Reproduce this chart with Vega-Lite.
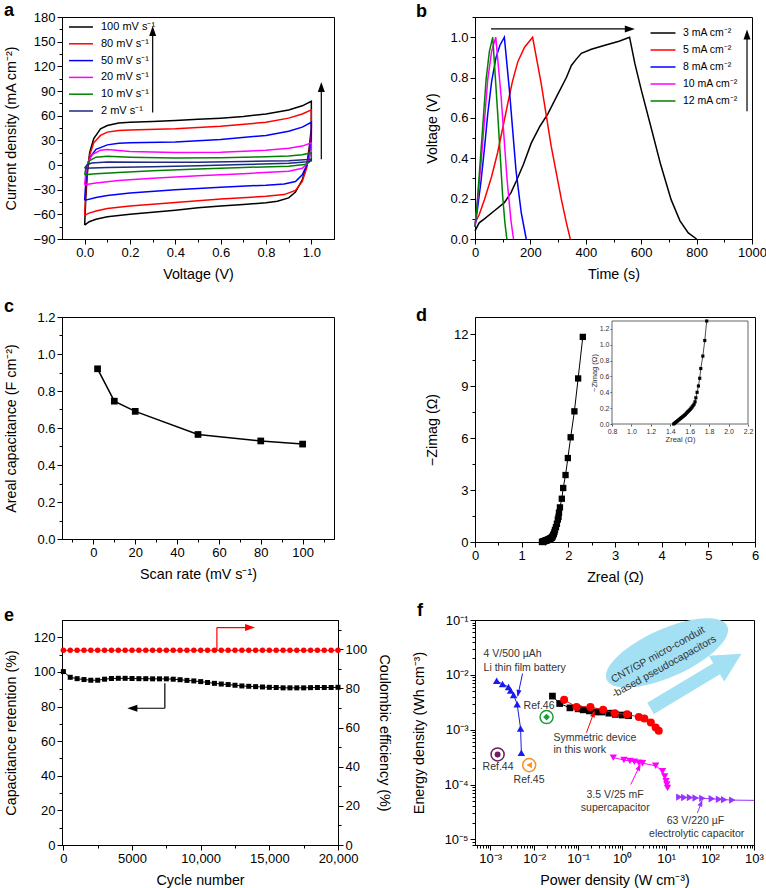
{
"$schema": "https://vega.github.io/schema/vega-lite/v6.json",
"padding": {"left": 3, "top": 1, "right": 0, "bottom": 0},
"background": "white",
"config": {
  "font": "Liberation Sans",
  "view": {"stroke": "black", "strokeWidth": 1},
  "axis": {"domainColor": "black", "tickColor": "black", "labelColor": "black", "titleColor": "black", "labelFontSize": 13, "titleFontSize": 14.3, "titleFontWeight": "normal", "grid": false, "tickSize": 5, "labelPadding": 2, "labelFlush": false, "labelOverlap": false, "labelFont": "Liberation Sans", "titleFont": "Liberation Sans"},
  "axisX": {"titlePadding": 8},
  "axisY": {"titlePadding": 6},
  "title": {"anchor": "start", "frame": "bounds", "fontSize": 18, "fontWeight": "bold", "offset": -5, "color": "black"},
  "legend": {"padding": 0, "labelFont": "Liberation Sans", "labelColor": "black"}
},
"resolve": {"scale": {"color": "independent"}, "legend": {"color": "independent"}},
"columns": 2,
"spacing": {"row": 78, "column": 137},
"bounds": "flush",
"align": "each",
"concat": [
{
 "width": 272, "height": 222,
 "title": {"text": "a", "dx": 0, "offset": -9},
 "layer": [
  {
   "data": {"values": [
{"s":"100 mV s⁻¹","o":0,"v":0,"j":-73},{"s":"100 mV s⁻¹","o":1,"v":0.005,"j":-40},{"s":"100 mV s⁻¹","o":2,"v":0.012,"j":-10},{"s":"100 mV s⁻¹","o":3,"v":0.022,"j":15},{"s":"100 mV s⁻¹","o":4,"v":0.04,"j":32},{"s":"100 mV s⁻¹","o":5,"v":0.07,"j":44},{"s":"100 mV s⁻¹","o":6,"v":0.1,"j":48},{"s":"100 mV s⁻¹","o":7,"v":0.15,"j":51},{"s":"100 mV s⁻¹","o":8,"v":0.2,"j":52},{"s":"100 mV s⁻¹","o":9,"v":0.3,"j":53},{"s":"100 mV s⁻¹","o":10,"v":0.4,"j":54},{"s":"100 mV s⁻¹","o":11,"v":0.5,"j":55.5},{"s":"100 mV s⁻¹","o":12,"v":0.6,"j":57},{"s":"100 mV s⁻¹","o":13,"v":0.7,"j":59},{"s":"100 mV s⁻¹","o":14,"v":0.8,"j":62},{"s":"100 mV s⁻¹","o":15,"v":0.9,"j":67},{"s":"100 mV s⁻¹","o":16,"v":0.96,"j":72},{"s":"100 mV s⁻¹","o":17,"v":1,"j":77.5},{"s":"100 mV s⁻¹","o":18,"v":1,"j":45},{"s":"100 mV s⁻¹","o":19,"v":0.99,"j":20},{"s":"100 mV s⁻¹","o":20,"v":0.98,"j":0},{"s":"100 mV s⁻¹","o":21,"v":0.96,"j":-18},{"s":"100 mV s⁻¹","o":22,"v":0.93,"j":-33},{"s":"100 mV s⁻¹","o":23,"v":0.9,"j":-40},{"s":"100 mV s⁻¹","o":24,"v":0.85,"j":-44},{"s":"100 mV s⁻¹","o":25,"v":0.8,"j":-46},{"s":"100 mV s⁻¹","o":26,"v":0.7,"j":-48},{"s":"100 mV s⁻¹","o":27,"v":0.6,"j":-50},{"s":"100 mV s⁻¹","o":28,"v":0.5,"j":-52},{"s":"100 mV s⁻¹","o":29,"v":0.4,"j":-55},{"s":"100 mV s⁻¹","o":30,"v":0.3,"j":-57.5},{"s":"100 mV s⁻¹","o":31,"v":0.2,"j":-60},{"s":"100 mV s⁻¹","o":32,"v":0.1,"j":-63},{"s":"100 mV s⁻¹","o":33,"v":0.05,"j":-66},{"s":"100 mV s⁻¹","o":34,"v":0.02,"j":-69},{"s":"100 mV s⁻¹","o":35,"v":0,"j":-73},
{"s":"80 mV s⁻¹","o":0,"v":0,"j":-61},{"s":"80 mV s⁻¹","o":1,"v":0.005,"j":-30},{"s":"80 mV s⁻¹","o":2,"v":0.012,"j":-5},{"s":"80 mV s⁻¹","o":3,"v":0.022,"j":12},{"s":"80 mV s⁻¹","o":4,"v":0.04,"j":27},{"s":"80 mV s⁻¹","o":5,"v":0.07,"j":36},{"s":"80 mV s⁻¹","o":6,"v":0.1,"j":40},{"s":"80 mV s⁻¹","o":7,"v":0.15,"j":42},{"s":"80 mV s⁻¹","o":8,"v":0.2,"j":42.5},{"s":"80 mV s⁻¹","o":9,"v":0.4,"j":44},{"s":"80 mV s⁻¹","o":10,"v":0.6,"j":47},{"s":"80 mV s⁻¹","o":11,"v":0.8,"j":52},{"s":"80 mV s⁻¹","o":12,"v":0.9,"j":57},{"s":"80 mV s⁻¹","o":13,"v":0.96,"j":62},{"s":"80 mV s⁻¹","o":14,"v":1,"j":67},{"s":"80 mV s⁻¹","o":15,"v":1,"j":38},{"s":"80 mV s⁻¹","o":16,"v":0.99,"j":15},{"s":"80 mV s⁻¹","o":17,"v":0.98,"j":-3},{"s":"80 mV s⁻¹","o":18,"v":0.96,"j":-20},{"s":"80 mV s⁻¹","o":19,"v":0.93,"j":-31},{"s":"80 mV s⁻¹","o":20,"v":0.88,"j":-36},{"s":"80 mV s⁻¹","o":21,"v":0.8,"j":-38},{"s":"80 mV s⁻¹","o":22,"v":0.6,"j":-41.5},{"s":"80 mV s⁻¹","o":23,"v":0.4,"j":-45.5},{"s":"80 mV s⁻¹","o":24,"v":0.2,"j":-50},{"s":"80 mV s⁻¹","o":25,"v":0.1,"j":-53},{"s":"80 mV s⁻¹","o":26,"v":0.05,"j":-56},{"s":"80 mV s⁻¹","o":27,"v":0.02,"j":-58.5},{"s":"80 mV s⁻¹","o":28,"v":0,"j":-61},
{"s":"50 mV s⁻¹","o":0,"v":0,"j":-43},{"s":"50 mV s⁻¹","o":1,"v":0.005,"j":-20},{"s":"50 mV s⁻¹","o":2,"v":0.012,"j":-2},{"s":"50 mV s⁻¹","o":3,"v":0.025,"j":10},{"s":"50 mV s⁻¹","o":4,"v":0.05,"j":19},{"s":"50 mV s⁻¹","o":5,"v":0.1,"j":24.5},{"s":"50 mV s⁻¹","o":6,"v":0.15,"j":26.5},{"s":"50 mV s⁻¹","o":7,"v":0.2,"j":27},{"s":"50 mV s⁻¹","o":8,"v":0.4,"j":28},{"s":"50 mV s⁻¹","o":9,"v":0.6,"j":31},{"s":"50 mV s⁻¹","o":10,"v":0.8,"j":36},{"s":"50 mV s⁻¹","o":11,"v":0.9,"j":41},{"s":"50 mV s⁻¹","o":12,"v":0.96,"j":46},{"s":"50 mV s⁻¹","o":13,"v":1,"j":52},{"s":"50 mV s⁻¹","o":14,"v":1,"j":30},{"s":"50 mV s⁻¹","o":15,"v":0.99,"j":12},{"s":"50 mV s⁻¹","o":16,"v":0.98,"j":0},{"s":"50 mV s⁻¹","o":17,"v":0.96,"j":-12},{"s":"50 mV s⁻¹","o":18,"v":0.93,"j":-20},{"s":"50 mV s⁻¹","o":19,"v":0.88,"j":-23},{"s":"50 mV s⁻¹","o":20,"v":0.8,"j":-24.5},{"s":"50 mV s⁻¹","o":21,"v":0.6,"j":-27},{"s":"50 mV s⁻¹","o":22,"v":0.4,"j":-30},{"s":"50 mV s⁻¹","o":23,"v":0.2,"j":-34},{"s":"50 mV s⁻¹","o":24,"v":0.1,"j":-37},{"s":"50 mV s⁻¹","o":25,"v":0.05,"j":-39.5},{"s":"50 mV s⁻¹","o":26,"v":0,"j":-43},
{"s":"20 mV s⁻¹","o":0,"v":0,"j":-24},{"s":"20 mV s⁻¹","o":1,"v":0.005,"j":-10},{"s":"20 mV s⁻¹","o":2,"v":0.015,"j":4},{"s":"20 mV s⁻¹","o":3,"v":0.035,"j":13},{"s":"20 mV s⁻¹","o":4,"v":0.07,"j":18},{"s":"20 mV s⁻¹","o":5,"v":0.1,"j":18.7},{"s":"20 mV s⁻¹","o":6,"v":0.15,"j":17.5},{"s":"20 mV s⁻¹","o":7,"v":0.2,"j":16.5},{"s":"20 mV s⁻¹","o":8,"v":0.4,"j":15.2},{"s":"20 mV s⁻¹","o":9,"v":0.6,"j":15.5},{"s":"20 mV s⁻¹","o":10,"v":0.8,"j":18},{"s":"20 mV s⁻¹","o":11,"v":0.9,"j":20.5},{"s":"20 mV s⁻¹","o":12,"v":0.96,"j":23},{"s":"20 mV s⁻¹","o":13,"v":1,"j":27},{"s":"20 mV s⁻¹","o":14,"v":1,"j":18},{"s":"20 mV s⁻¹","o":15,"v":0.99,"j":8},{"s":"20 mV s⁻¹","o":16,"v":0.98,"j":1},{"s":"20 mV s⁻¹","o":17,"v":0.96,"j":-4},{"s":"20 mV s⁻¹","o":18,"v":0.9,"j":-7.5},{"s":"20 mV s⁻¹","o":19,"v":0.7,"j":-10.5},{"s":"20 mV s⁻¹","o":20,"v":0.5,"j":-13},{"s":"20 mV s⁻¹","o":21,"v":0.3,"j":-16},{"s":"20 mV s⁻¹","o":22,"v":0.15,"j":-19},{"s":"20 mV s⁻¹","o":23,"v":0.05,"j":-22},{"s":"20 mV s⁻¹","o":24,"v":0,"j":-24},
{"s":"10 mV s⁻¹","o":0,"v":0,"j":-12},{"s":"10 mV s⁻¹","o":1,"v":0.005,"j":-4},{"s":"10 mV s⁻¹","o":2,"v":0.02,"j":5},{"s":"10 mV s⁻¹","o":3,"v":0.05,"j":9.5},{"s":"10 mV s⁻¹","o":4,"v":0.1,"j":10.5},{"s":"10 mV s⁻¹","o":5,"v":0.2,"j":9.5},{"s":"10 mV s⁻¹","o":6,"v":0.4,"j":8.5},{"s":"10 mV s⁻¹","o":7,"v":0.6,"j":8.8},{"s":"10 mV s⁻¹","o":8,"v":0.8,"j":10},{"s":"10 mV s⁻¹","o":9,"v":0.9,"j":11},{"s":"10 mV s⁻¹","o":10,"v":0.96,"j":12.5},{"s":"10 mV s⁻¹","o":11,"v":1,"j":15},{"s":"10 mV s⁻¹","o":12,"v":1,"j":8},{"s":"10 mV s⁻¹","o":13,"v":0.99,"j":3},{"s":"10 mV s⁻¹","o":14,"v":0.97,"j":0.5},{"s":"10 mV s⁻¹","o":15,"v":0.9,"j":-1.5},{"s":"10 mV s⁻¹","o":16,"v":0.7,"j":-3},{"s":"10 mV s⁻¹","o":17,"v":0.5,"j":-5},{"s":"10 mV s⁻¹","o":18,"v":0.3,"j":-7},{"s":"10 mV s⁻¹","o":19,"v":0.15,"j":-9},{"s":"10 mV s⁻¹","o":20,"v":0.05,"j":-10.5},{"s":"10 mV s⁻¹","o":21,"v":0,"j":-12},
{"s":"2 mV s⁻¹","o":0,"v":0,"j":-4},{"s":"2 mV s⁻¹","o":1,"v":0.01,"j":0},{"s":"2 mV s⁻¹","o":2,"v":0.03,"j":2.5},{"s":"2 mV s⁻¹","o":3,"v":0.1,"j":3.5},{"s":"2 mV s⁻¹","o":4,"v":0.3,"j":3.2},{"s":"2 mV s⁻¹","o":5,"v":0.5,"j":3.3},{"s":"2 mV s⁻¹","o":6,"v":0.7,"j":4.2},{"s":"2 mV s⁻¹","o":7,"v":0.9,"j":5.3},{"s":"2 mV s⁻¹","o":8,"v":1,"j":7},{"s":"2 mV s⁻¹","o":9,"v":1,"j":5},{"s":"2 mV s⁻¹","o":10,"v":0.97,"j":3.5},{"s":"2 mV s⁻¹","o":11,"v":0.9,"j":2},{"s":"2 mV s⁻¹","o":12,"v":0.7,"j":0.5},{"s":"2 mV s⁻¹","o":13,"v":0.5,"j":-0.8},{"s":"2 mV s⁻¹","o":14,"v":0.3,"j":-2},{"s":"2 mV s⁻¹","o":15,"v":0.1,"j":-3},{"s":"2 mV s⁻¹","o":16,"v":0,"j":-4}
   ]},
   "mark": {"type": "line", "strokeWidth": 1.5},
   "encoding": {
    "x": {"field": "v", "type": "quantitative", "scale": {"domain": [-0.1, 1.1], "nice": false, "zero": false},
      "axis": {"title": "Voltage (V)", "tickCount": 200, "labelOverlap": false, "values": [0,0.1,0.2,0.3,0.4,0.5,0.6,0.7,0.8,0.9,1], "labelExpr": "abs(datum.value*5-round(datum.value*5))<0.01 ? format(datum.value,'.1f') : ''", "tickSize": {"condition": {"test": "abs(datum.value*5-round(datum.value*5))<0.01", "value": 5}, "value": 3}}},
    "y": {"field": "j", "type": "quantitative", "scale": {"domain": [-90, 180], "nice": false, "zero": false},
      "axis": {"title": "Current density (mA cm⁻²)", "tickCount": 200, "labelOverlap": false, "values": [-90,-75,-60,-45,-30,-15,0,15,30,45,60,75,90,105,120,135,150,165,180], "labelExpr": "abs(datum.value%30)<0.01 ? format(datum.value,'d') : ''", "tickSize": {"condition": {"test": "abs(datum.value%30)<0.01", "value": 5}, "value": 3}, "minExtent": 38, "maxExtent": 38}},
    "color": {"field": "s", "type": "nominal", "scale": {"domain": ["100 mV s⁻¹","80 mV s⁻¹","50 mV s⁻¹","20 mV s⁻¹","10 mV s⁻¹","2 mV s⁻¹"], "range": ["#000000","#ff0000","#0000ff","#ff00ff","#008000","#1c2a80"]},
      "legend": {"title": null, "orient": "none", "legendX": 11, "legendY": 2, "symbolType": "M -1.76 0 L 1.76 0", "symbolSize": 185, "symbolStrokeWidth": 1.5, "labelFontSize": 11, "labelOffset": 12, "rowPadding": 3.8}},
    "order": {"field": "o", "type": "quantitative"}
   }
  },
  {
   "data": {"values": [{"v":0.3,"j":64,"v2":0.3,"j2":166},{"v":1.044,"j":7,"v2":1.044,"j2":97}]},
   "mark": {"type": "rule", "color": "black", "strokeWidth": 1.2},
   "encoding": {"x": {"field": "v", "type": "quantitative"}, "y": {"field": "j", "type": "quantitative"}, "x2": {"field": "v2"}, "y2": {"field": "j2"}}
  },
  {
   "data": {"values": [{"v":0.3,"j":169},{"v":1.044,"j":101}]},
   "mark": {"type": "point", "shape": "M 0 0 L -3.5 10 L 3.5 10 Z", "size": 4, "filled": true, "color": "black", "opacity": 1, "angle": 0},
   "encoding": {"x": {"field": "v", "type": "quantitative"}, "y": {"field": "j", "type": "quantitative"}}
  }
 ]
},
{
 "width": 277, "height": 222,
 "title": {"text": "b", "dx": -9, "offset": -10},
 "layer": [
  {
   "data": {"values": [
{"c":"3 mA cm⁻²","t":0,"u":0.04},{"c":"3 mA cm⁻²","t":15,"u":0.08},{"c":"3 mA cm⁻²","t":34,"u":0.1},{"c":"3 mA cm⁻²","t":70,"u":0.14},{"c":"3 mA cm⁻²","t":106,"u":0.18},{"c":"3 mA cm⁻²","t":130,"u":0.23},{"c":"3 mA cm⁻²","t":150,"u":0.29},{"c":"3 mA cm⁻²","t":175,"u":0.37},{"c":"3 mA cm⁻²","t":203,"u":0.475},{"c":"3 mA cm⁻²","t":235,"u":0.56},{"c":"3 mA cm⁻²","t":263,"u":0.62},{"c":"3 mA cm⁻²","t":300,"u":0.72},{"c":"3 mA cm⁻²","t":330,"u":0.8},{"c":"3 mA cm⁻²","t":348,"u":0.86},{"c":"3 mA cm⁻²","t":365,"u":0.89},{"c":"3 mA cm⁻²","t":384,"u":0.92},{"c":"3 mA cm⁻²","t":420,"u":0.94},{"c":"3 mA cm⁻²","t":469,"u":0.96},{"c":"3 mA cm⁻²","t":520,"u":0.98},{"c":"3 mA cm⁻²","t":558,"u":1.0},{"c":"3 mA cm⁻²","t":577,"u":0.87},{"c":"3 mA cm⁻²","t":600,"u":0.74},{"c":"3 mA cm⁻²","t":638,"u":0.54},{"c":"3 mA cm⁻²","t":670,"u":0.37},{"c":"3 mA cm⁻²","t":708,"u":0.195},{"c":"3 mA cm⁻²","t":740,"u":0.09},{"c":"3 mA cm⁻²","t":770,"u":0.03},{"c":"3 mA cm⁻²","t":800,"u":0.0},
{"c":"5 mA cm⁻²","t":0,"u":0.08},{"c":"5 mA cm⁻²","t":15,"u":0.12},{"c":"5 mA cm⁻²","t":34,"u":0.195},{"c":"5 mA cm⁻²","t":60,"u":0.31},{"c":"5 mA cm⁻²","t":82,"u":0.43},{"c":"5 mA cm⁻²","t":100,"u":0.55},{"c":"5 mA cm⁻²","t":118,"u":0.67},{"c":"5 mA cm⁻²","t":135,"u":0.78},{"c":"5 mA cm⁻²","t":155,"u":0.88},{"c":"5 mA cm⁻²","t":179,"u":0.95},{"c":"5 mA cm⁻²","t":208,"u":1.0},{"c":"5 mA cm⁻²","t":239,"u":0.77},{"c":"5 mA cm⁻²","t":275,"u":0.46},{"c":"5 mA cm⁻²","t":312,"u":0.195},{"c":"5 mA cm⁻²","t":330,"u":0.08},{"c":"5 mA cm⁻²","t":344,"u":0.0},
{"c":"8 mA cm⁻²","t":0,"u":0.06},{"c":"8 mA cm⁻²","t":10,"u":0.16},{"c":"8 mA cm⁻²","t":22,"u":0.29},{"c":"8 mA cm⁻²","t":35,"u":0.46},{"c":"8 mA cm⁻²","t":46,"u":0.62},{"c":"8 mA cm⁻²","t":60,"u":0.78},{"c":"8 mA cm⁻²","t":76,"u":0.9},{"c":"8 mA cm⁻²","t":90,"u":0.96},{"c":"8 mA cm⁻²","t":106,"u":1.0},{"c":"8 mA cm⁻²","t":124,"u":0.74},{"c":"8 mA cm⁻²","t":148,"u":0.34},{"c":"8 mA cm⁻²","t":167,"u":0.13},{"c":"8 mA cm⁻²","t":185,"u":0.0},
{"c":"10 mA cm⁻²","t":0,"u":0.06},{"c":"10 mA cm⁻²","t":10,"u":0.2},{"c":"10 mA cm⁻²","t":22,"u":0.38},{"c":"10 mA cm⁻²","t":35,"u":0.6},{"c":"10 mA cm⁻²","t":46,"u":0.79},{"c":"10 mA cm⁻²","t":60,"u":0.93},{"c":"10 mA cm⁻²","t":75,"u":1.0},{"c":"10 mA cm⁻²","t":94,"u":0.71},{"c":"10 mA cm⁻²","t":116,"u":0.29},{"c":"10 mA cm⁻²","t":130,"u":0.09},{"c":"10 mA cm⁻²","t":139,"u":0.0},
{"c":"12 mA cm⁻²","t":0,"u":0.06},{"c":"12 mA cm⁻²","t":8,"u":0.18},{"c":"12 mA cm⁻²","t":16,"u":0.33},{"c":"12 mA cm⁻²","t":28,"u":0.56},{"c":"12 mA cm⁻²","t":40,"u":0.79},{"c":"12 mA cm⁻²","t":52,"u":0.93},{"c":"12 mA cm⁻²","t":64,"u":1.0},{"c":"12 mA cm⁻²","t":82,"u":0.62},{"c":"12 mA cm⁻²","t":100,"u":0.21},{"c":"12 mA cm⁻²","t":108,"u":0.08},{"c":"12 mA cm⁻²","t":115,"u":0.0}
   ]},
   "mark": {"type": "line", "strokeWidth": 1.5},
   "encoding": {
    "x": {"field": "t", "type": "quantitative", "scale": {"domain": [0, 1000], "nice": false},
      "axis": {"title": "Time (s)", "tickCount": 200, "labelOverlap": false, "values": [0,100,200,300,400,500,600,700,800,900,1000], "labelExpr": "datum.value%200==0 ? format(datum.value,'d') : ''", "tickSize": {"condition": {"test": "datum.value%200==0", "value": 5}, "value": 3}}},
    "y": {"field": "u", "type": "quantitative", "scale": {"domain": [0, 1.1], "nice": false},
      "axis": {"title": "Voltage (V)", "tickCount": 200, "labelOverlap": false, "values": [0,0.1,0.2,0.3,0.4,0.5,0.6,0.7,0.8,0.9,1.0,1.1], "labelExpr": "abs(datum.value*5-round(datum.value*5))<0.01 ? format(datum.value,'.1f') : ''", "tickSize": {"condition": {"test": "abs(datum.value*5-round(datum.value*5))<0.01", "value": 5}, "value": 3}, "minExtent": 30, "maxExtent": 30}},
    "color": {"field": "c", "type": "nominal", "scale": {"domain": ["3 mA cm⁻²","5 mA cm⁻²","8 mA cm⁻²","10 mA cm⁻²","12 mA cm⁻²"], "range": ["#000000","#ff0000","#0000ff","#ff00ff","#008000"]},
      "legend": {"title": null, "orient": "none", "legendX": 180, "legendY": 8, "symbolType": "M -1.72 0 L 1.72 0", "symbolSize": 210, "symbolStrokeWidth": 1.5, "labelFontSize": 10.5, "labelOffset": 12, "rowPadding": 3}}
   }
  },
  {
   "data": {"values": [{"t":58,"u":1.041,"t2":565,"u2":1.041},{"t":982,"u":0.633,"t2":982,"u2":1.0}]},
   "mark": {"type": "rule", "color": "black", "strokeWidth": 1.2},
   "encoding": {"x": {"field": "t", "type": "quantitative"}, "y": {"field": "u", "type": "quantitative"}, "x2": {"field": "t2"}, "y2": {"field": "u2"}}
  },
  {
   "data": {"values": [{"t":577,"u":1.041}]},
   "mark": {"type": "point", "shape": "M 0 0 L -3.5 10 L 3.5 10 Z", "size": 4, "filled": true, "color": "black", "opacity": 1, "angle": 90},
   "encoding": {"x": {"field": "t", "type": "quantitative"}, "y": {"field": "u", "type": "quantitative"}}
  },
  {
   "data": {"values": [{"t":982,"u":1.038}]},
   "mark": {"type": "point", "shape": "M 0 0 L -3.5 10 L 3.5 10 Z", "size": 4, "filled": true, "color": "black", "opacity": 1, "angle": 0},
   "encoding": {"x": {"field": "t", "type": "quantitative"}, "y": {"field": "u", "type": "quantitative"}}
  }
 ]
},
{
 "width": 272, "height": 222,
 "title": {"text": "c", "dx": 0, "offset": -5},
 "data": {"values": [{"r":2,"a":0.92},{"r":10,"a":0.745},{"r":20,"a":0.69},{"r":50,"a":0.565},{"r":80,"a":0.53},{"r":100,"a":0.513}]},
 "encoding": {
   "x": {"field": "r", "type": "quantitative", "scale": {"domain": [-15, 115], "nice": false, "zero": false},
     "axis": {"title": "Scan rate (mV s⁻¹)", "tickCount": 200, "labelOverlap": false, "values": [-10,0,10,20,30,40,50,60,70,80,90,100,110], "labelExpr": "datum.value%20==0 ? format(datum.value,'d') : ''", "tickSize": {"condition": {"test": "datum.value%20==0", "value": 5}, "value": 3}}},
   "y": {"field": "a", "type": "quantitative", "scale": {"domain": [0, 1.2], "nice": false},
     "axis": {"title": "Areal capacitance (F cm⁻²)", "tickCount": 200, "labelOverlap": false, "values": [0,0.1,0.2,0.3,0.4,0.5,0.6,0.7,0.8,0.9,1.0,1.1,1.2], "labelExpr": "abs(datum.value*5-round(datum.value*5))<0.01 ? format(datum.value,'.1f') : ''", "tickSize": {"condition": {"test": "abs(datum.value*5-round(datum.value*5))<0.01", "value": 5}, "value": 3}, "minExtent": 38, "maxExtent": 38}}
 },
 "layer": [
  {"mark": {"type": "line", "color": "black", "strokeWidth": 1.5}},
  {"mark": {"type": "point", "shape": "square", "filled": true, "color": "black", "size": 45, "opacity": 1}}
 ]
},
{
 "width": 280, "height": 225,
 "title": {"text": "d", "dx": -9, "offset": -8},
 "data": {"values": [
{"zr":1.435,"zi":0.0},{"zr":1.445,"zi":0.01},{"zr":1.455,"zi":0.02},{"zr":1.465,"zi":0.03},{"zr":1.475,"zi":0.04},{"zr":1.485,"zi":0.05},{"zr":1.495,"zi":0.06},{"zr":1.505,"zi":0.07},{"zr":1.515,"zi":0.08},{"zr":1.525,"zi":0.09},{"zr":1.535,"zi":0.1},{"zr":1.545,"zi":0.11},{"zr":1.555,"zi":0.12},{"zr":1.565,"zi":0.135},{"zr":1.575,"zi":0.148},{"zr":1.585,"zi":0.16},{"zr":1.595,"zi":0.172},{"zr":1.605,"zi":0.185},{"zr":1.615,"zi":0.2},{"zr":1.625,"zi":0.215},{"zr":1.635,"zi":0.232},{"zr":1.645,"zi":0.25},{"zr":1.655,"zi":0.28},{"zr":1.663,"zi":0.33},{"zr":1.676,"zi":0.4},{"zr":1.69,"zi":0.48},{"zr":1.703,"zi":0.577},{"zr":1.714,"zi":0.7},{"zr":1.735,"zi":0.857},{"zr":1.755,"zi":1.054},{"zr":1.775,"zi":1.3},{"zr":1.79,"zi":1.45},{"zr":1.8,"zi":1.7},{"zr":1.82,"zi":2.0},{"zr":1.86,"zi":2.5},{"zr":1.89,"zi":3.12},{"zr":1.94,"zi":3.87},{"zr":1.99,"zi":4.85},{"zr":2.05,"zi":6.05},{"zr":2.13,"zi":7.55},{"zr":2.21,"zi":9.45},{"zr":2.31,"zi":11.85}
 ]},
 "resolve": {"scale": {"x": "independent", "y": "independent"}, "axis": {"x": "independent", "y": "independent"}},
 "layer": [
  {
   "encoding": {
    "x": {"field": "zr", "type": "quantitative", "scale": {"domain": [0, 6], "nice": false},
      "axis": {"title": "Zreal (Ω)", "orient": "bottom", "tickCount": 200, "labelOverlap": false, "values": [0,0.5,1,1.5,2,2.5,3,3.5,4,4.5,5,5.5,6], "labelExpr": "datum.value%1==0 ? format(datum.value,'d') : ''", "tickSize": {"condition": {"test": "datum.value%1==0", "value": 5}, "value": 3}}},
    "y": {"field": "zi", "type": "quantitative", "scale": {"domain": [0, 13], "nice": false},
      "axis": {"title": "−Zimag (Ω)", "orient": "left", "tickCount": 200, "labelOverlap": false, "values": [0,1.5,3,4.5,6,7.5,9,10.5,12], "labelExpr": "datum.value%3==0 ? format(datum.value,'d') : ''", "tickSize": {"condition": {"test": "datum.value%3==0", "value": 5}, "value": 3}, "minExtent": 30, "maxExtent": 30}}
   },
   "layer": [
    {"mark": {"type": "line", "color": "black", "strokeWidth": 1}},
    {"mark": {"type": "point", "shape": "square", "filled": true, "color": "black", "size": 40, "opacity": 1}}
   ]
  },
  {
   "layer": [
    {
     "data": {"values": [{"zr":0.8,"zr2":2.2,"zi":0,"zi2":1.3}]},
     "mark": {"type": "rect", "fill": "white", "stroke": "#666666", "strokeWidth": 1},
     "encoding": {
      "x": {"field": "zr", "type": "quantitative", "scale": {"domain": [0.8, 2.2], "range": [137, 273], "nice": false, "zero": false},
        "axis": {"title": "Zreal (Ω)", "orient": "bottom", "offset": -118, "domain": false, "tickCount": 200, "labelOverlap": false, "values": [0.8,1.0,1.2,1.4,1.6,1.8,2.0,2.2], "format": ".1f", "labelFontSize": 7, "titleFontSize": 7.5, "tickSize": 2, "labelPadding": 1, "titlePadding": 1, "tickColor": "#555555", "labelColor": "#333333", "titleColor": "#333333"}},
      "x2": {"field": "zr2"},
      "y": {"field": "zi", "type": "quantitative", "scale": {"domain": [0, 1.3], "range": [107, 4], "nice": false},
        "axis": {"title": "−Zimag (Ω)", "orient": "left", "offset": -137, "domain": false, "tickCount": 200, "labelOverlap": false, "values": [0,0.2,0.4,0.6,0.8,1.0,1.2], "format": ".1f", "labelFontSize": 7, "titleFontSize": 7.5, "tickSize": 2, "labelPadding": 1, "titlePadding": 1, "tickColor": "#555555", "labelColor": "#333333", "titleColor": "#333333"}},
      "y2": {"field": "zi2"}
     }
    },
    {
     "transform": [{"filter": "datum.zi <= 1.31"}],
     "mark": {"type": "line", "color": "black", "strokeWidth": 0.7},
     "encoding": {"x": {"field": "zr", "type": "quantitative"}, "y": {"field": "zi", "type": "quantitative"}}
    },
    {
     "transform": [{"filter": "datum.zi <= 1.31"}],
     "mark": {"type": "point", "shape": "square", "filled": true, "color": "black", "size": 10, "opacity": 1},
     "encoding": {"x": {"field": "zr", "type": "quantitative"}, "y": {"field": "zi", "type": "quantitative"}}
    }
   ]
  }
 ]
},
{
 "width": 276, "height": 225,
 "title": {"text": "e", "dx": 0, "offset": -5},
 "data": {"values": [
{"cy":0,"r":100.2,"ce":99.5},{"cy":500,"r":96.9,"ce":99.5},{"cy":1000,"r":96.1,"ce":99.5},{"cy":1500,"r":95.6,"ce":99.5},{"cy":2000,"r":95.2,"ce":99.5},{"cy":2500,"r":95.2,"ce":99.5},{"cy":3000,"r":95.8,"ce":99.5},{"cy":3500,"r":96.2,"ce":99.5},{"cy":4000,"r":96.3,"ce":99.5},{"cy":4500,"r":96.3,"ce":99.5},{"cy":5000,"r":96.2,"ce":99.5},{"cy":5500,"r":96.1,"ce":99.5},{"cy":6000,"r":96.1,"ce":99.5},{"cy":6500,"r":96.0,"ce":99.5},{"cy":7000,"r":96.0,"ce":99.5},{"cy":7500,"r":96.0,"ce":99.5},{"cy":8000,"r":95.8,"ce":99.5},{"cy":8500,"r":95.5,"ce":99.5},{"cy":9000,"r":95.1,"ce":99.5},{"cy":9500,"r":94.8,"ce":99.5},{"cy":10000,"r":94.4,"ce":99.5},{"cy":10500,"r":93.9,"ce":99.5},{"cy":11000,"r":93.4,"ce":99.5},{"cy":11500,"r":93.0,"ce":99.5},{"cy":12000,"r":92.7,"ce":99.5},{"cy":12500,"r":92.3,"ce":99.5},{"cy":13000,"r":91.9,"ce":99.5},{"cy":13500,"r":91.7,"ce":99.5},{"cy":14000,"r":91.5,"ce":99.5},{"cy":14500,"r":91.3,"ce":99.5},{"cy":15000,"r":91.1,"ce":99.5},{"cy":15500,"r":91.0,"ce":99.5},{"cy":16000,"r":90.8,"ce":99.5},{"cy":16500,"r":90.8,"ce":99.5},{"cy":17000,"r":90.8,"ce":99.5},{"cy":17500,"r":90.8,"ce":99.5},{"cy":18000,"r":90.9,"ce":99.5},{"cy":18500,"r":91.0,"ce":99.5},{"cy":19000,"r":91.0,"ce":99.5},{"cy":19500,"r":91.0,"ce":99.5},{"cy":20000,"r":91.1,"ce":99.5}
 ]},
 "resolve": {"scale": {"y": "independent"}},
 "layer": [
  {
   "mark": {"type": "line", "color": "black", "strokeWidth": 1},
   "encoding": {
    "x": {"field": "cy", "type": "quantitative", "scale": {"domain": [-100, 20000], "nice": false, "zero": false},
      "axis": {"title": "Cycle number", "tickCount": 200, "labelOverlap": false, "values": [0,2500,5000,7500,10000,12500,15000,17500,20000], "labelExpr": "datum.value%5000==0 ? (datum.value>=10000 ? format(datum.value,',') : format(datum.value,'d')) : ''", "tickSize": {"condition": {"test": "datum.value%5000==0", "value": 5}, "value": 3}}},
    "y": {"field": "r", "type": "quantitative", "scale": {"domain": [0, 130], "nice": false},
      "axis": {"title": "Capacitance retention (%)", "orient": "left", "tickCount": 200, "labelOverlap": false, "values": [0,10,20,30,40,50,60,70,80,90,100,110,120], "labelExpr": "datum.value%20==0 ? format(datum.value,'d') : ''", "tickSize": {"condition": {"test": "datum.value%20==0", "value": 5}, "value": 3}, "minExtent": 38, "maxExtent": 38}}
   }
  },
  {
   "mark": {"type": "point", "shape": "square", "filled": true, "color": "black", "size": 25, "opacity": 1},
   "encoding": {
    "x": {"field": "cy", "type": "quantitative"},
    "y": {"field": "r", "type": "quantitative", "scale": {"domain": [0, 130], "nice": false}, "axis": null}
   }
  },
  {
   "mark": {"type": "line", "color": "#ff0000", "strokeWidth": 1},
   "encoding": {
    "x": {"field": "cy", "type": "quantitative"},
    "y": {"field": "ce", "type": "quantitative", "scale": {"domain": [0, 115], "nice": false},
      "axis": {"title": "Coulombic efficiency (%)", "orient": "right", "titleAngle": 90, "tickCount": 200, "labelOverlap": false, "values": [0,10,20,30,40,50,60,70,80,90,100,110], "labelExpr": "datum.value%20==0 ? format(datum.value,'d') : ''", "tickSize": {"condition": {"test": "datum.value%20==0", "value": 5}, "value": 3}, "minExtent": 30, "maxExtent": 30, "titlePadding": 8}}
   }
  },
  {
   "mark": {"type": "point", "shape": "circle", "filled": true, "color": "#ff0000", "size": 30, "opacity": 1},
   "encoding": {
    "x": {"field": "cy", "type": "quantitative"},
    "y": {"field": "ce", "type": "quantitative", "scale": {"domain": [0, 115], "nice": false}, "axis": null}
   }
  },
  {
   "data": {"values": [{"cy":7390,"r":93.4,"cy2":7390,"r2":79},{"cy":7390,"r":79,"cy2":4950,"r2":79}]},
   "mark": {"type": "rule", "color": "black", "strokeWidth": 1.2},
   "encoding": {"x": {"field": "cy", "type": "quantitative"}, "x2": {"field": "cy2"}, "y": {"field": "r", "type": "quantitative", "scale": {"domain": [0, 130], "nice": false}, "axis": null}, "y2": {"field": "r2"}}
  },
  {
   "data": {"values": [{"cy":4660,"r":79}]},
   "mark": {"type": "point", "shape": "M 0 0 L -3.5 10 L 3.5 10 Z", "size": 4, "filled": true, "color": "black", "opacity": 1, "angle": 270},
   "encoding": {"x": {"field": "cy", "type": "quantitative"}, "y": {"field": "r", "type": "quantitative", "scale": {"domain": [0, 130], "nice": false}, "axis": null}}
  },
  {
   "data": {"values": [{"cy":11180,"r":112.7,"cy2":11180,"r2":125.6},{"cy":11180,"r":125.6,"cy2":13700,"r2":125.6}]},
   "mark": {"type": "rule", "color": "#ff0000", "strokeWidth": 1.2},
   "encoding": {"x": {"field": "cy", "type": "quantitative"}, "x2": {"field": "cy2"}, "y": {"field": "r", "type": "quantitative", "scale": {"domain": [0, 130], "nice": false}, "axis": null}, "y2": {"field": "r2"}}
  },
  {
   "data": {"values": [{"cy":13960,"r":125.6}]},
   "mark": {"type": "point", "shape": "M 0 0 L -3.5 10 L 3.5 10 Z", "size": 4, "filled": true, "color": "#ff0000", "opacity": 1, "angle": 90},
   "encoding": {"x": {"field": "cy", "type": "quantitative"}, "y": {"field": "r", "type": "quantitative", "scale": {"domain": [0, 130], "nice": false}, "axis": null}}
  }
 ]
},
{
 "width": 279, "height": 225,
 "title": {"text": "f", "dx": 5, "offset": -6},
 "layer": [
  {
   "data": {"values": [{"x":10.5,"y":0.0252}]},
   "mark": {"type": "point", "shape": "M -66 0 C -66 -13.26 -36.45 -24 0 -24 C 36.45 -24 66 -13.26 66 0 C 66 13.26 36.45 24 0 24 C -36.45 24 -66 13.26 -66 0 Z", "size": 4, "filled": true, "color": "#a3e0f3", "opacity": 1, "angle": -24},
   "encoding": {
    "x": {"field": "x", "type": "quantitative", "scale": {"type": "log", "domain": [0.00045, 1000], "nice": false},
      "axis": {"title": "Power density (W cm⁻³)", "tickCount": 200, "labelOverlap": false, "values": [0.0005,0.0006,0.0007,0.0008,0.0009,0.001,0.002,0.003,0.004,0.005,0.006,0.007,0.008,0.009,0.01,0.02,0.03,0.04,0.05,0.06,0.07,0.08,0.09,0.1,0.2,0.3,0.4,0.5,0.6,0.7,0.8,0.9,1,2,3,4,5,6,7,8,9,10,20,30,40,50,60,70,80,90,100,200,300,400,500,600,700,800,900,1000],
        "labelExpr": "abs(log(datum.value)/LN10-round(log(datum.value)/LN10))<0.01 ? ['10⁻⁵','10⁻⁴','10⁻³','10⁻²','10⁻¹','10⁰','10¹','10²','10³'][round(log(datum.value)/LN10)+5] : ''",
        "tickSize": {"condition": {"test": "abs(log(datum.value)/LN10-round(log(datum.value)/LN10))<0.01", "value": 5}, "value": 3}}},
    "y": {"field": "y", "type": "quantitative", "scale": {"type": "log", "domain": [0.0000079, 0.1], "nice": false},
      "axis": {"title": "Energy density (Wh cm⁻³)", "tickCount": 200, "labelOverlap": false, "values": [0.000008,0.000009,0.00001,0.00002,0.00003,0.00004,0.00005,0.00006,0.00007,0.00008,0.00009,0.0001,0.0002,0.0003,0.0004,0.0005,0.0006,0.0007,0.0008,0.0009,0.001,0.002,0.003,0.004,0.005,0.006,0.007,0.008,0.009,0.01,0.02,0.03,0.04,0.05,0.06,0.07,0.08,0.09,0.1],
        "labelExpr": "abs(log(datum.value)/LN10-round(log(datum.value)/LN10))<0.01 ? ['10⁻⁵','10⁻⁴','10⁻³','10⁻²','10⁻¹','10⁰','10¹','10²','10³'][round(log(datum.value)/LN10)+5] : ''",
        "tickSize": {"condition": {"test": "abs(log(datum.value)/LN10-round(log(datum.value)/LN10))<0.01", "value": 5}, "value": 3}, "minExtent": 42, "maxExtent": 42, "titlePadding": 7}}
   }
  },
  {
   "data": {"values": [{"x":48,"y":0.0077}]},
   "mark": {"type": "point", "shape": "M -53 -6.5 L 24 -6.5 L 24 -15 L 53 0 L 24 15 L 24 6.5 L -53 6.5 Z", "size": 4, "filled": true, "color": "#a3e0f3", "opacity": 1, "angle": -31},
   "encoding": {"x": {"field": "x", "type": "quantitative"}, "y": {"field": "y", "type": "quantitative"}}
  },
  {
   "data": {"values": [{"x":6.58,"y":0.0232,"t":"CNT/GP micro-conduit"},{"x":9.02,"y":0.014,"t":"-based pseudocapacitors"}]},
   "mark": {"type": "text", "fontSize": 10.5, "color": "#333333", "angle": -29, "align": "center", "baseline": "middle"},
   "encoding": {"x": {"field": "x", "type": "quantitative"}, "y": {"field": "y", "type": "quantitative"}, "text": {"field": "t"}}
  },
  {
   "data": {"values": [{"x":0.0014,"y":0.0078},{"x":0.0019,"y":0.0068},{"x":0.0026,"y":0.006},{"x":0.0029,"y":0.0052},{"x":0.0034,"y":0.0043},{"x":0.0041,"y":0.0029},{"x":0.0049,"y":0.00105},{"x":0.0051,"y":0.00038}]},
   "layer": [
    {"mark": {"type": "line", "color": "#1a1aee", "strokeWidth": 1}, "encoding": {"x": {"field": "x", "type": "quantitative"}, "y": {"field": "y", "type": "quantitative"}, "order": {"field": "y", "sort": "descending"}}},
    {"mark": {"type": "point", "shape": "triangle-up", "filled": true, "color": "#1a1aee", "size": 55, "opacity": 1}, "encoding": {"x": {"field": "x", "type": "quantitative"}, "y": {"field": "y", "type": "quantitative"}}}
   ]
  },
  {
   "data": {"values": [{"x":20,"y":0.000059},{"x":26,"y":0.000058},{"x":35,"y":0.000058},{"x":47,"y":0.000057},{"x":67,"y":0.000056},{"x":110,"y":0.000055},{"x":160,"y":0.000054},{"x":210,"y":0.000053},{"x":320,"y":0.000052},{"x":1000,"y":0.0000515}]},
   "mark": {"type": "line", "color": "#9933ff", "strokeWidth": 1},
   "encoding": {"x": {"field": "x", "type": "quantitative"}, "y": {"field": "y", "type": "quantitative"}}
  },
  {
   "data": {"values": [{"x":20,"y":0.000059},{"x":26,"y":0.000058},{"x":35,"y":0.000058},{"x":47,"y":0.000057},{"x":67,"y":0.000056},{"x":110,"y":0.000055},{"x":160,"y":0.000054},{"x":210,"y":0.000053},{"x":320,"y":0.000052}]},
   "mark": {"type": "point", "shape": "triangle-right", "filled": true, "color": "#9933ff", "size": 55, "opacity": 1},
   "encoding": {"x": {"field": "x", "type": "quantitative"}, "y": {"field": "y", "type": "quantitative"}}
  },
  {
   "data": {"values": [{"x":0.63,"y":0.00031},{"x":1.1,"y":0.00028},{"x":1.5,"y":0.00027},{"x":1.9,"y":0.00026},{"x":2.4,"y":0.00025},{"x":2.9,"y":0.000245},{"x":5.8,"y":0.00022},{"x":8.3,"y":0.000175},{"x":9.3,"y":0.00014},{"x":10,"y":0.000115},{"x":10.4,"y":0.0001},{"x":10.8,"y":0.000087}]},
   "layer": [
    {"mark": {"type": "line", "color": "#ff00ff", "strokeWidth": 1}, "encoding": {"x": {"field": "x", "type": "quantitative"}, "y": {"field": "y", "type": "quantitative"}}},
    {"mark": {"type": "point", "shape": "triangle-down", "filled": true, "color": "#ff00ff", "size": 55, "opacity": 1}, "encoding": {"x": {"field": "x", "type": "quantitative"}, "y": {"field": "y", "type": "quantitative"}}}
   ]
  },
  {
   "data": {"values": [{"x":0.026,"y":0.0041},{"x":0.038,"y":0.003},{"x":0.065,"y":0.0025},{"x":0.1,"y":0.0024},{"x":0.13,"y":0.0023},{"x":0.18,"y":0.0022},{"x":0.25,"y":0.0021},{"x":0.35,"y":0.0021},{"x":0.5,"y":0.002},{"x":0.7,"y":0.0019},{"x":1.0,"y":0.00185},{"x":1.4,"y":0.0018}]},
   "layer": [
    {"mark": {"type": "line", "color": "black", "strokeWidth": 1}, "encoding": {"x": {"field": "x", "type": "quantitative"}, "y": {"field": "y", "type": "quantitative"}}},
    {"mark": {"type": "point", "shape": "square", "filled": true, "color": "black", "size": 45, "opacity": 1}, "encoding": {"x": {"field": "x", "type": "quantitative"}, "y": {"field": "y", "type": "quantitative"}}}
   ]
  },
  {
   "data": {"values": [{"x":0.048,"y":0.0035},{"x":0.092,"y":0.0026},{"x":0.19,"y":0.0026},{"x":0.37,"y":0.0023},{"x":0.68,"y":0.002},{"x":1.3,"y":0.0019},{"x":2.4,"y":0.0017},{"x":3.2,"y":0.0016},{"x":4.5,"y":0.00135},{"x":5.8,"y":0.0011},{"x":6.8,"y":0.00096}]},
   "layer": [
    {"mark": {"type": "line", "color": "#ff0000", "strokeWidth": 1}, "encoding": {"x": {"field": "x", "type": "quantitative"}, "y": {"field": "y", "type": "quantitative"}}},
    {"mark": {"type": "point", "shape": "circle", "filled": true, "color": "#ff0000", "size": 65, "opacity": 1}, "encoding": {"x": {"field": "x", "type": "quantitative"}, "y": {"field": "y", "type": "quantitative"}}}
   ]
  },
  {
   "data": {"values": [{"x":0.00147,"y":0.000354}]},
   "layer": [
    {"mark": {"type": "point", "shape": "circle", "filled": false, "color": "#6b1f5c", "strokeWidth": 1.5, "size": 170, "opacity": 1}, "encoding": {"x": {"field": "x", "type": "quantitative"}, "y": {"field": "y", "type": "quantitative"}}},
    {"mark": {"type": "point", "shape": "circle", "filled": true, "color": "#6b1f5c", "size": 35, "opacity": 1}, "encoding": {"x": {"field": "x", "type": "quantitative"}, "y": {"field": "y", "type": "quantitative"}}}
   ]
  },
  {
   "data": {"values": [{"x":0.00769,"y":0.000226}]},
   "layer": [
    {"mark": {"type": "point", "shape": "circle", "filled": false, "color": "#f7931e", "strokeWidth": 1.5, "size": 170, "opacity": 1}, "encoding": {"x": {"field": "x", "type": "quantitative"}, "y": {"field": "y", "type": "quantitative"}}},
    {"mark": {"type": "point", "shape": "triangle-left", "filled": true, "color": "#f7931e", "size": 40, "opacity": 1}, "encoding": {"x": {"field": "x", "type": "quantitative"}, "y": {"field": "y", "type": "quantitative"}}}
   ]
  },
  {
   "data": {"values": [{"x":0.0191,"y":0.0017}]},
   "layer": [
    {"mark": {"type": "point", "shape": "circle", "filled": false, "color": "#1a9c3e", "strokeWidth": 1.5, "size": 170, "opacity": 1}, "encoding": {"x": {"field": "x", "type": "quantitative"}, "y": {"field": "y", "type": "quantitative"}}},
    {"mark": {"type": "point", "shape": "diamond", "filled": true, "color": "#1a9c3e", "size": 45, "opacity": 1}, "encoding": {"x": {"field": "x", "type": "quantitative"}, "y": {"field": "y", "type": "quantitative"}}}
   ]
  },
  {
   "data": {"values": [{"x":0.00543,"y":0.01057,"x2":0.00425,"y2":0.0042}]},
   "mark": {"type": "rule", "color": "#1a1aee", "strokeWidth": 1},
   "encoding": {"x": {"field": "x", "type": "quantitative"}, "y": {"field": "y", "type": "quantitative"}, "x2": {"field": "x2"}, "y2": {"field": "y2"}}
  },
  {
   "data": {"values": [{"x":0.00418,"y":0.00396}]},
   "mark": {"type": "point", "shape": "M 0 0 L -2.5 7 L 2.5 7 Z", "size": 4, "filled": true, "color": "#1a1aee", "opacity": 1, "angle": 192},
   "encoding": {"x": {"field": "x", "type": "quantitative"}, "y": {"field": "y", "type": "quantitative"}}
  },
  {
   "data": {"values": [{"x":0.1545,"y":0.00088,"x2":0.23,"y2":0.0021}]},
   "mark": {"type": "rule", "color": "#ff0000", "strokeWidth": 1},
   "encoding": {"x": {"field": "x", "type": "quantitative"}, "y": {"field": "y", "type": "quantitative"}, "x2": {"field": "x2"}, "y2": {"field": "y2"}}
  },
  {
   "data": {"values": [{"x":0.239,"y":0.00226}]},
   "mark": {"type": "point", "shape": "M 0 0 L -2.5 7 L 2.5 7 Z", "size": 4, "filled": true, "color": "#ff0000", "opacity": 1, "angle": 20},
   "encoding": {"x": {"field": "x", "type": "quantitative"}, "y": {"field": "y", "type": "quantitative"}}
  },
  {
   "data": {"values": [{"x":1.57,"y":0.0001,"x2":2.55,"y2":0.000225}]},
   "mark": {"type": "rule", "color": "#ff00ff", "strokeWidth": 1},
   "encoding": {"x": {"field": "x", "type": "quantitative"}, "y": {"field": "y", "type": "quantitative"}, "x2": {"field": "x2"}, "y2": {"field": "y2"}}
  },
  {
   "data": {"values": [{"x":2.65,"y":0.000239}]},
   "mark": {"type": "point", "shape": "M 0 0 L -2.5 7 L 2.5 7 Z", "size": 4, "filled": true, "color": "#ff00ff", "opacity": 1, "angle": 26},
   "encoding": {"x": {"field": "x", "type": "quantitative"}, "y": {"field": "y", "type": "quantitative"}}
  },
  {
   "data": {"values": [{"x":51.5,"y":0.0000303,"x2":65,"y2":0.000049}]},
   "mark": {"type": "rule", "color": "#9933ff", "strokeWidth": 1},
   "encoding": {"x": {"field": "x", "type": "quantitative"}, "y": {"field": "y", "type": "quantitative"}, "x2": {"field": "x2"}, "y2": {"field": "y2"}}
  },
  {
   "data": {"values": [{"x":67,"y":0.000053}]},
   "mark": {"type": "point", "shape": "M 0 0 L -2.5 7 L 2.5 7 Z", "size": 4, "filled": true, "color": "#9933ff", "opacity": 1, "angle": 21},
   "encoding": {"x": {"field": "x", "type": "quantitative"}, "y": {"field": "y", "type": "quantitative"}}
  },
  {
   "data": {"values": [
{"x":0.000705,"y":0.0239,"t":"4 V/500 µAh"},{"x":0.000705,"y":0.01324,"t":"Li thin film battery"},{"x":0.00573,"y":0.00271,"t":"Ref.46"},{"x":0.02748,"y":0.000714,"t":"Symmetric device"},{"x":0.02748,"y":0.000419,"t":"in this work"},{"x":0.00067,"y":0.000207,"t":"Ref.44"},{"x":0.00339,"y":0.000123,"t":"Ref.45"},{"x":0.1545,"y":0.0000656,"t":"3.5 V/25 mF"},{"x":0.115,"y":0.0000374,"t":"supercapacitor"},{"x":10.35,"y":0.0000213,"t":"63 V/220 µF"},{"x":4.11,"y":0.0000125,"t":"electrolytic capacitor"}
   ]},
   "mark": {"type": "text", "fontSize": 10.5, "color": "#333333", "align": "left", "baseline": "middle"},
   "encoding": {"x": {"field": "x", "type": "quantitative"}, "y": {"field": "y", "type": "quantitative"}, "text": {"field": "t"}}
  }
 ]
}
]
}
